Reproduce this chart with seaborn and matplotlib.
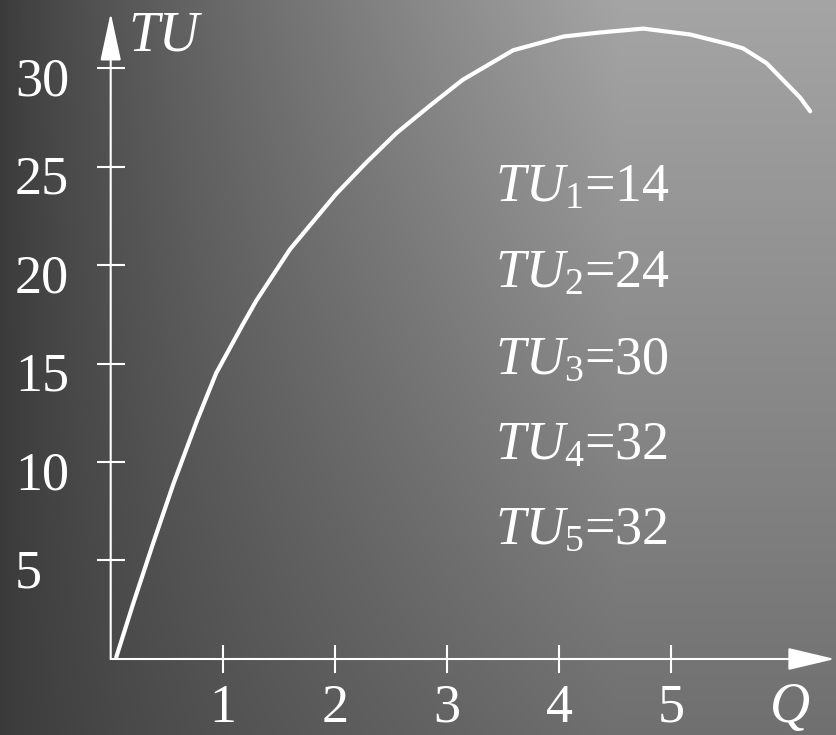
import numpy as np
import seaborn as sns
from matplotlib import pyplot as plt
from matplotlib import transforms, font_manager

# total utility curve
quantity = [0.05, 0.20, 0.38, 0.56, 0.77, 0.94, 1.18, 1.30, 1.60, 2.01, 2.28, 2.55,
            2.85, 3.14, 3.59, 4.04, 4.36, 4.75, 5.17, 5.52, 5.64, 5.85, 6.15, 6.24]
total_utility = [0.1, 2.8, 5.9, 8.9, 12.1, 14.5, 17.0, 18.2, 20.8, 23.6, 25.2, 26.7,
                 28.1, 29.4, 30.9, 31.6, 31.8, 32.0, 31.7, 31.2, 31.0, 30.25, 28.5, 27.8]

x_ticks = [1, 2, 3, 4, 5]
y_ticks = [5, 10, 15, 20, 25, 30]
tu_labels = ['$TU_1$=14', '$TU_2$=24', '$TU_3$=30', '$TU_4$=32', '$TU_5$=32']
tu_rows = [23.2, 18.84, 14.47, 10.15, 5.84]

sns.set_style("white")
plt.rcParams['font.family'] = ['Liberation Serif', 'DejaVu Serif']
plt.rcParams['mathtext.fontset'] = 'custom'
plt.rcParams['mathtext.rm'] = 'Liberation Serif'
plt.rcParams['mathtext.it'] = 'Liberation Serif:italic'

W, H = 836, 735
fig = plt.figure(figsize=(W / 100, H / 100), dpi=100)

# grey gradient background
bg = fig.add_axes([0, 0, 1, 1])
xx, yy = np.meshgrid(np.arange(W), np.arange(H))
shade = 58 + 107 * np.clip(xx / 620, 0, 1) ** 0.8 * (1 - 0.5 * yy / H)
bg.imshow(np.dstack([shade / 255] * 3), aspect='auto', interpolation='bilinear')
bg.axis('off')

ax = fig.add_axes([0, 0, 1, 1])
ax.patch.set_alpha(0)
ax.set_xlim(-0.9875, 6.47)
ax.set_ylim(-3.858, 33.452)

sns.lineplot(x=quantity, y=total_utility, color='white', lw=3, ax=ax)

for side in ['left', 'bottom']:
    ax.spines[side].set_position(('data', 0))
    ax.spines[side].set_visible(False)
ax.spines['top'].set_visible(False)
ax.spines['right'].set_visible(False)

# axes with arrow heads
ax.annotate('', xy=(0, 32.8), xytext=(0, 0),
            arrowprops=dict(arrowstyle='-|>,head_length=30,head_width=6.5',
                            mutation_scale=1, color='white', lw=1.5,
                            shrinkA=0, shrinkB=0))
ax.annotate('', xy=(6.46, 0), xytext=(0, 0),
            arrowprops=dict(arrowstyle='-|>,head_length=29.5,head_width=7',
                            mutation_scale=1, color='white', lw=1.5,
                            shrinkA=0, shrinkB=0))

ax.set_xticks(x_ticks, [str(v) for v in x_ticks])
ax.set_yticks(y_ticks, [str(v) for v in y_ticks], ha='left')
ax.tick_params(bottom=True, left=True, direction='inout', length=20,
               width=1.5, color='white', labelcolor='white', labelsize=39)
ax.tick_params(axis='x', pad=7.5)
ax.tick_params(axis='y', pad=59)
offset = transforms.ScaledTranslation(0, -0.08, fig.dpi_scale_trans)
for lab in ax.get_yticklabels():
    lab.set_transform(lab.get_transform() + offset)

texts = [ax.text(0.155, 30.9, 'TU', style='italic', color='white', fontsize=40,
                 ha='left', va='baseline'),
         ax.text(5.88, -3.2, 'Q', style='italic', color='white', fontsize=40,
                 ha='left', va='baseline')]

for lab, row in zip(tu_labels, tu_rows):
    texts.append(ax.text(3.43, row, lab, color='white', fontsize=39,
                         ha='left', va='baseline'))

fig.canvas.draw()
for t in texts + ax.get_xticklabels() + ax.get_yticklabels():
    path = font_manager.findfont(t.get_fontproperties())
    if 'LiberationSerif' not in path:
        raise SystemExit("font check: " + t.get_text() + " -> " + path)

fig.savefig("out.png", dpi=100)
